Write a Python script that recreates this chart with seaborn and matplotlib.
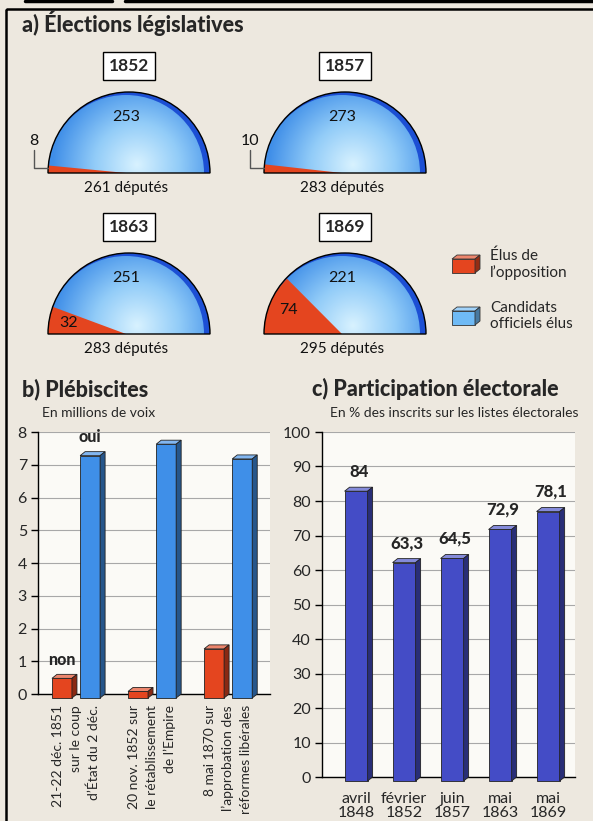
import numpy as np
import pandas as pd
import matplotlib
matplotlib.use('Agg')
import matplotlib.pyplot as plt
import matplotlib.colors as mcolors
from matplotlib.patches import Wedge, Rectangle, Polygon
import seaborn as sns

# --- a) Élections législatives ---
leg_years = ['1852', '1857', '1863', '1869']
leg_officiels = [253, 273, 251, 221]
leg_opposition = [8, 10, 32, 74]
leg_totaux = [261, 283, 283, 295]

# --- b) Plébiscites (millions de voix) ---
pleb_labels = ["21-22 déc. 1851\nsur le coup\nd’État du 2 déc.",
               "20 nov. 1852 sur\nle rétablissement\nde l’Empire",
               "8 mai 1870 sur\nl’approbation des\nréformes libérales"]
pleb_non = [0.6, 0.2, 1.5]
pleb_oui = [7.4, 7.75, 7.3]

# --- c) Participation électorale (%) ---
part_labels = ['avril\n1848', 'février\n1852', 'juin\n1857', 'mai\n1863', 'mai\n1869']
part_values = [84, 63.3, 64.5, 72.9, 78.1]

RED = '#e4451f'
BLUE = '#3f8fe8'
VIOLET = '#444cc6'
BG = '#ede8df'

sns.set_style('white')
plt.rcParams['font.family'] = ['Lato', 'DejaVu Sans']

W, H = 593, 821
fig = plt.figure(figsize=(W / 100, H / 100), dpi=100, facecolor=BG)

# overlay axes in pixel units for section a) and the decorations
ax0 = fig.add_axes([0, 0, 1, 1])
ax0.axis('off')


def shade(color, f):
    c = np.array(mcolors.to_rgb(color))
    if f > 0:
        return tuple(c + (1 - c) * f)
    return tuple(c * (1 + f))


# gradient colormap for the domes
dome_cmap = mcolors.LinearSegmentedColormap.from_list('dome', ['#d8f2ff', '#92ccf8', '#3f8ee8'])
R = 81
centers = [(129, 173), (345, 173), (129, 334), (345, 334)]

for (cx, cy), year, off, opp, tot in zip(centers, leg_years, leg_officiels, leg_opposition, leg_totaux):
    # dark rim then lighter inner dome
    ax0.add_patch(Wedge((cx, cy), R, 180, 360, fc='#1c4fd4', ec='none', zorder=1))
    inner = Wedge((cx - 3, cy), R - 3, 180, 360, fc='none', ec='none', zorder=1)
    ax0.add_patch(inner)
    gx, gy = np.meshgrid(np.linspace(cx - R, cx + R, 200), np.linspace(cy - R, cy, 100))
    dist = np.hypot(gx - (cx + 0.1 * R), gy - (cy - 0.1 * R)) / (1.05 * R)
    im = ax0.imshow(dist, cmap=dome_cmap, vmin=0, vmax=1, extent=(cx - R, cx + R, cy, cy - R),
                    origin='upper', interpolation='bilinear', zorder=1.5)
    im.set_clip_path(inner)
    ang = opp / tot * 180
    ax0.add_patch(Wedge((cx - 3, cy), R - 3, 180, 180 + ang, fc=RED, ec='none', zorder=2))
    ax0.add_patch(Wedge((cx, cy), R, 180, 360, fill=False, ec='black', lw=1.0, zorder=3))

    ax0.text(cx, cy - 107, year, fontsize=12.5, fontweight='bold', ha='center', va='center',
             bbox=dict(boxstyle='square,pad=0.32', fc='white', ec='black', lw=1))
    ax0.text(cx - 3, cy - 56, str(off), fontsize=11.5, ha='center', va='center', color='#111', zorder=4)
    ax0.text(cx - 3, cy + 15, f'{tot} députés', fontsize=11, ha='center', va='center', color='#111')
    if ang < 10:
        lx = cx - R - 14
        ax0.text(lx, cy - 32, str(opp), fontsize=11.5, ha='center', va='center', color='#111')
        ax0.plot([lx, lx, cx - R], [cy - 23, cy - 5, cy - 5], color='#555', lw=1, zorder=4)
    else:
        mid = np.radians(180 + ang / 2)
        ax0.text(cx + 0.76 * R * np.cos(mid), cy + 0.76 * R * np.sin(mid), str(opp),
                 fontsize=11.5, ha='center', va='center', color='#111', zorder=4)

ax0.set_xlim(0, W)
ax0.set_ylim(H, 0)
ax0.set_aspect('auto')

# frame
ax0.add_patch(Rectangle((6, 9), W, H, fill=False, ec='black', lw=1.8, clip_on=False))
ax0.plot([25, 112], [1, 1], color='black', lw=2.5)
ax0.plot([125, W], [1, 1], color='black', lw=2.5)

ax0.text(22, 23, 'a) Élections législatives', fontsize=15.5, fontweight='black', va='center')


def box3d(ax, x, y, w, h, dx, dy, color):
    ax.add_patch(Rectangle((x, y), w, h, fc=color, ec='#333', lw=0.6))
    ax.add_patch(Polygon([(x, y), (x + dx, y - dy), (x + w + dx, y - dy), (x + w, y)],
                         fc=shade(color, 0.35), ec='#333', lw=0.6))
    ax.add_patch(Polygon([(x + w, y), (x + w + dx, y - dy), (x + w + dx, y + h - dy), (x + w, y + h)],
                         fc=shade(color, -0.35), ec='#333', lw=0.6))


box3d(ax0, 452, 259, 23, 14, 5, 4, RED)
box3d(ax0, 452, 311, 23, 14, 5, 4, '#6fbaf5')
ax0.text(490, 264, 'Élus de\nl’opposition', fontsize=11, va='center', linespacing=1.15)
ax0.text(490, 316, 'Candidats\nofficiels élus', fontsize=11, va='center', linespacing=1.15)

# section titles
ax0.text(22, 389, 'b) Plébiscites', fontsize=15.5, fontweight='black', va='center')
ax0.text(42, 413, 'En millions de voix', fontsize=10, va='center')
ax0.text(312, 389, 'c) Participation électorale', fontsize=15.5, fontweight='black', va='center')
ax0.text(330, 413, 'En % des inscrits sur les listes électorales', fontsize=10, va='center')


def add_depth(ax, bars, dx, dy):
    for bar in bars:
        col = bar.get_facecolor()
        x, w, h = bar.get_x(), bar.get_width(), bar.get_height()
        bar.set_y(-dy)
        bar.set_clip_on(False)
        bar.set_edgecolor('#222')
        bar.set_linewidth(0.6)
        bar.set_zorder(3)
        ax.add_patch(Polygon([(x, h - dy), (x + dx, h), (x + w + dx, h), (x + w, h - dy)],
                             fc=shade(col, 0.35), ec='#222', lw=0.6, clip_on=False, zorder=3))
        ax.add_patch(Polygon([(x + w, -dy), (x + w + dx, 0), (x + w + dx, h), (x + w, h - dy)],
                             fc=shade(col, -0.4), ec='#222', lw=0.6, clip_on=False, zorder=3))


def style_axis(ax):
    ax.set_facecolor('#fbfaf6')
    ax.set_axisbelow(True)
    ax.yaxis.grid(True, color='#a8a8a8', lw=0.8)
    ax.xaxis.grid(False)
    for s in ['top', 'right']:
        ax.spines[s].set_visible(False)
    for s in ['left', 'bottom']:
        ax.spines[s].set_color('black')
        ax.spines[s].set_linewidth(1)
    ax.tick_params(axis='y', left=True, length=5, width=1, color='black', labelsize=11.5, pad=3)
    ax.tick_params(axis='x', length=0)
    ax.set_xlabel('')
    ax.set_ylabel('')


# --- b) ---
ax_b = fig.add_axes([38 / W, 1 - 694 / H, 232 / W, 262 / H])
df_b = pd.DataFrame({'scrutin': pleb_labels * 2,
                     'vote': ['non'] * 3 + ['oui'] * 3,
                     'voix': pleb_non + pleb_oui})
sns.barplot(data=df_b, x='scrutin', y='voix', hue='vote', palette={'non': RED, 'oui': BLUE},
            width=0.74, gap=0.29, saturation=1, legend=False, ax=ax_b)
ax_b.set_xlim(-0.5, 2.55)
ax_b.set_ylim(0, 8)
ax_b.set_yticks(range(0, 9))
style_axis(ax_b)
bars_b = list(ax_b.patches)
add_depth(ax_b, bars_b, 5 / 76, 4 / 32.75)
ax_b.set_xticks(range(3))
ax_b.set_xticklabels(pleb_labels, rotation=90, ha='center', va='top', multialignment='right',
                     fontsize=10, linespacing=1.6)
ax_b.tick_params(axis='x', pad=8)
non_bar = min(bars_b, key=lambda b: b.get_x())
oui_bar = sorted(bars_b, key=lambda b: b.get_x())[1]
ax_b.text(non_bar.get_x() + non_bar.get_width() / 2, pleb_non[0] + 0.2, 'non',
          fontsize=11.5, fontweight='black', ha='center', va='bottom')
ax_b.text(oui_bar.get_x() + oui_bar.get_width() / 2, pleb_oui[0] + 0.2, 'oui',
          fontsize=11.5, fontweight='black', ha='center', va='bottom')

# --- c) ---
ax_c = fig.add_axes([322 / W, 1 - 777 / H, 253 / W, 345 / H])
sns.barplot(x=part_labels, y=part_values, color=VIOLET, width=0.48, saturation=1, ax=ax_c)
ax_c.set_xlim(-0.71, 4.56)
ax_c.set_ylim(0, 100)
ax_c.set_yticks(range(0, 101, 10))
style_axis(ax_c)
bars_c = list(ax_c.patches)
dxc = 5 / 48
add_depth(ax_c, bars_c, dxc, 4 / 3.45)
for bar, v in zip(sorted(bars_c, key=lambda b: b.get_x()), part_values):
    ax_c.text(bar.get_x() + bar.get_width() / 2 + dxc / 2, v + 2.2, f'{v:g}'.replace('.', ','),
              fontsize=12, fontweight='black', ha='center', va='bottom')
ax_c.tick_params(axis='x', labelsize=11.5, pad=11)
for t in ax_c.get_xticklabels():
    t.set_linespacing(1.0)

fig.savefig('out.png', dpi=100, facecolor=BG)
